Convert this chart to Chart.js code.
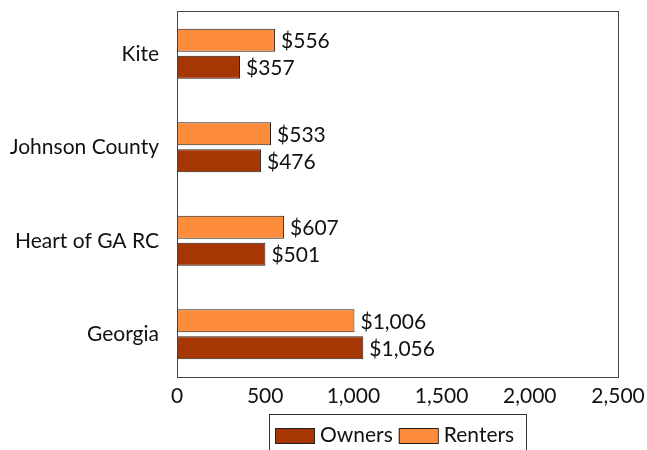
<!DOCTYPE html>
<html>
<head>
<meta charset="utf-8">
<script src="https://cdn.jsdelivr.net/npm/chart.js@4"></script>
<style>
  html, body { margin: 0; padding: 0; background: #fff; }
  #wrap { width: 647px; height: 450px; }
</style>
</head>
<body>
<div id="wrap"><canvas id="chart" width="647" height="450"></canvas></div>
<script>
const categories = ["Kite", "Johnson County", "Heart of GA RC", "Georgia"]
const renters = [556, 533, 607, 1006]
const owners = [357, 476, 501, 1056]
const xTicks = [0, 500, 1000, 1500, 2000, 2500]

const FONT = "Lato"
const SIZE = 21
const INSET = 4 // frame sits a bit inside the category band
const fmt = v => v.toLocaleString("en-US")

// value labels after each bar
const valueLabels = {
  id: "valueLabels",
  afterDatasetsDraw(chart) {
    const ctx = chart.ctx
    ctx.save()
    ctx.font = `${SIZE}px ${FONT}`
    ctx.fillStyle = "#111"
    ctx.textAlign = "left"
    ctx.textBaseline = "middle"
    chart.data.datasets.forEach((ds, i) => {
      chart.getDatasetMeta(i).data.forEach((bar, j) => {
        ctx.fillText("$" + fmt(ds.data[j]), bar.x + 6, bar.y + 1)
      })
    })
    ctx.restore()
  }
}

// box round the plot and the legend under it
const frameAndLegend = {
  id: "frameAndLegend",
  afterDraw(chart) {
    const ctx = chart.ctx
    const a = chart.chartArea
    ctx.save()
    ctx.strokeStyle = "#444"
    ctx.lineWidth = 1
    ctx.strokeRect(Math.round(a.left) + 0.5, Math.round(a.top + INSET) + 0.5,
      Math.round(a.right - a.left), Math.round(a.bottom - a.top - 2 * INSET))

    // legend: Owners then Renters
    const items = [chart.data.datasets[1], chart.data.datasets[0]]
    ctx.font = `${SIZE}px ${FONT}`
    const sw = 39, sh = 15, gap = 6, between = 6, padL = 6, padR = 12
    let w = padL + padR
    items.forEach((d, i) => {
      w += sw + gap + ctx.measureText(d.label).width
      if (i < items.length - 1) w += between
    })
    const cx = (a.left + a.right) / 2
    const top = 414
    let x = Math.round(cx - w / 2)
    ctx.strokeStyle = "#333"
    ctx.strokeRect(x + 0.5, top + 0.5, Math.round(w), 40)
    x += padL
    const midY = top + 21
    items.forEach(d => {
      ctx.fillStyle = d.backgroundColor
      ctx.fillRect(x, Math.round(midY - sh / 2), sw, sh)
      ctx.strokeStyle = "#222"
      ctx.strokeRect(x + 0.5, Math.round(midY - sh / 2) + 0.5, sw, sh)
      x += sw + gap
      ctx.fillStyle = "#111"
      ctx.textBaseline = "middle"
      ctx.textAlign = "left"
      ctx.fillText(d.label, x, midY)
      x += ctx.measureText(d.label).width + between
    })
    ctx.restore()
  }
}

new Chart(document.getElementById("chart"), {
  type: "bar",
  data: {
    labels: categories,
    datasets: [
      {
        label: "Renters",
        data: renters,
        backgroundColor: "#fd8d3c",
        borderColor: "#222",
        borderWidth: 1,
        borderSkipped: false,
        categoryPercentage: 0.578,
        barPercentage: 0.85
      },
      {
        label: "Owners",
        data: owners,
        backgroundColor: "#a63603",
        borderColor: "#222",
        borderWidth: 1,
        borderSkipped: false,
        categoryPercentage: 0.578,
        barPercentage: 0.85
      }
    ]
  },
  options: {
    indexAxis: "y",
    responsive: false,
    animation: false,
    layout: { padding: { top: 11 - INSET, right: 29, bottom: 43 - INSET, left: 0 } },
    plugins: {
      legend: { display: false },
      tooltip: { enabled: false }
    },
    scales: {
      x: {
        min: 0,
        max: 2500,
        afterBuildTicks: axis => { axis.ticks = xTicks.map(v => ({ value: v })) },
        grid: { display: false, drawTicks: false },
        border: { display: false },
        ticks: {
          padding: 7 - INSET,
          color: "#111",
          font: { family: FONT, size: SIZE },
          callback: v => fmt(v)
        },
        afterFit: axis => {
          axis.height = 30
          axis.paddingLeft = 0
          axis.paddingRight = 0
        }
      },
      y: {
        grid: { display: false, drawTicks: false },
        border: { display: false },
        ticks: {
          padding: 18,
          color: "#111",
          font: { family: FONT, size: SIZE }
        },
        afterFit: axis => {
          axis.width = 177
          axis.paddingTop = 0
          axis.paddingBottom = 0
        }
      }
    }
  },
  plugins: [valueLabels, frameAndLegend]
})
</script>
</body>
</html>
